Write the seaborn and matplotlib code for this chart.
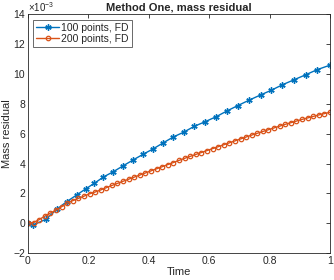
import numpy as np
import pandas as pd
import matplotlib
matplotlib.use('Agg')
import matplotlib.pyplot as plt
import seaborn as sns

# values, in units of 1e-3
time_100 = [0, 0.016, 0.059, 0.095, 0.128, 0.161, 0.191, 0.220, 0.250, 0.283,
            0.316, 0.348, 0.381, 0.414, 0.447, 0.481, 0.515, 0.551, 0.587, 0.624,
            0.659, 0.695, 0.732, 0.770, 0.806, 0.842, 0.880, 0.919, 0.958, 1.0]
resid_100 = [0, -0.13, 0.26, 0.93, 1.44, 1.89, 2.30, 2.68, 3.10, 3.46,
             3.86, 4.24, 4.62, 4.98, 5.38, 5.78, 6.10, 6.50, 6.81, 7.15,
             7.53, 7.89, 8.25, 8.60, 8.92, 9.28, 9.61, 9.95, 10.30, 10.60]

time_200 = list(np.linspace(0, 1, 55))
resid_200 = [0.00, 0.04, 0.24, 0.47, 0.68, 0.87, 1.10, 1.33, 1.51, 1.66,
             1.81, 1.97, 2.09, 2.23, 2.38, 2.53, 2.67, 2.81, 2.95, 3.09,
             3.23, 3.37, 3.51, 3.65, 3.79, 3.93, 4.07, 4.21, 4.35, 4.48,
             4.61, 4.74, 4.87, 5.00, 5.13, 5.26, 5.39, 5.52, 5.65, 5.78,
             5.91, 6.03, 6.15, 6.27, 6.39, 6.51, 6.63, 6.74, 6.85, 6.96,
             7.06, 7.16, 7.26, 7.35, 7.44]

labels = ['100 points, FD', '200 points, FD']
colors = ['#0072BD', '#D95319']
x_ticks = [0, 0.2, 0.4, 0.6, 0.8, 1]
x_ticklabels = ['0', '0.2', '0.4', '0.6', '0.8', '1']
y_ticks = [-2, 0, 2, 4, 6, 8, 10, 12, 14]

sns.set_style('white')
plt.rcParams['font.family'] = ['Liberation Sans', 'DejaVu Sans']
plt.rcParams['mathtext.fontset'] = 'custom'
plt.rcParams['mathtext.rm'] = 'Liberation Sans'
plt.rcParams['mathtext.it'] = 'Liberation Sans'

grey = '#262626'
fig = plt.figure(figsize=(3.34, 2.8), dpi=100)
ax = fig.add_axes([0.0838, 0.0964, 0.9042, 0.852])

sns.lineplot(x=time_100, y=resid_100, ax=ax, color=colors[0], marker=(6, 2, 0),
             markersize=4.5, markeredgewidth=1.0, markeredgecolor=colors[0],
             linewidth=1.0, label=labels[0])
sns.lineplot(x=time_200, y=resid_200, ax=ax, color=colors[1], marker='o',
             markersize=3.2, markerfacecolor='none', markeredgecolor=colors[1],
             markeredgewidth=0.9, linewidth=1.0, label=labels[1])

ax.set_xlim(0, 1)
ax.set_ylim(-2, 14)
ax.set_xticks(x_ticks)
ax.set_xticklabels(x_ticklabels)
ax.set_yticks(y_ticks)
ax.tick_params(direction='in', length=3, width=0.6, colors=grey, labelsize=7.5,
               top=True, right=True, pad=2)
for s in ax.spines.values():
    s.set_color(grey)
    s.set_linewidth(0.6)

ax.set_xlabel('Time', fontsize=8, color=grey, labelpad=1)
ax.set_ylabel('Mass residual', fontsize=8, color=grey, labelpad=1)
ax.set_title('Method One, mass residual', fontsize=8, fontweight='bold', pad=3)
ax.text(0.0, 1.0, r'$\times10^{-3}$', transform=ax.transAxes, fontsize=7,
        color=grey, ha='left', va='bottom')

leg = ax.legend(loc='upper left', fontsize=7.5, frameon=True, fancybox=False,
                borderpad=0.3, handlelength=2.2, handletextpad=0.2,
                labelspacing=0.1, borderaxespad=0.5)
leg.get_frame().set_edgecolor(grey)
leg.get_frame().set_linewidth(0.6)

fig.savefig('out.png', dpi=100)
